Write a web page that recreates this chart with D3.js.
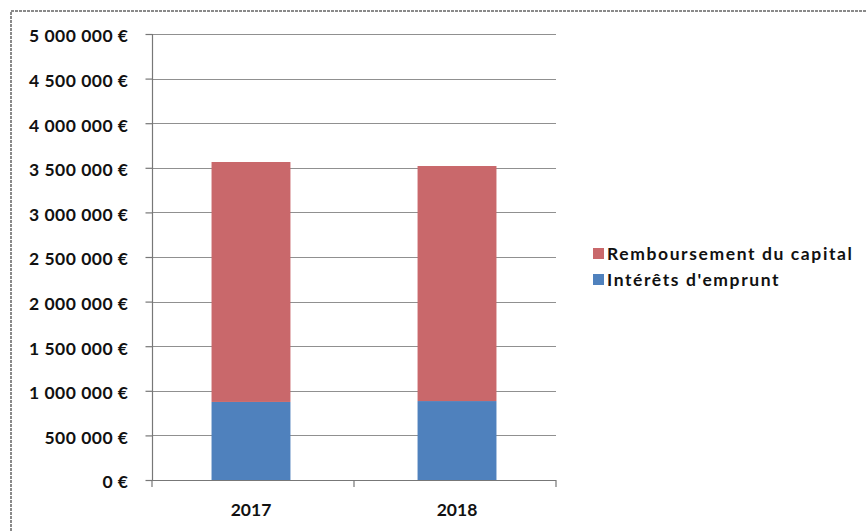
<!DOCTYPE html>
<html lang="fr">
<head>
<meta charset="utf-8">
<title>Annuités</title>
<style>
  body { margin: 0; background: #fff; }
  .tick text, .leg text { font-family: Lato, "Open Sans", sans-serif; font-weight: bold; fill: #111; }
</style>
<script src="https://d3js.org/d3.v7.min.js"></script>
</head>
<body>
<script>
var w = 867, h = 531;

// data
var years = ["2017", "2018"];
var interets = [875000, 885000];
var capital = [2690000, 2635000];
var seriesNames = ["Remboursement du capital", "Intérêts d'emprunt"];
var seriesColors = ["#c9686b", "#4f81bd"];
var yTicks = [0, 500000, 1000000, 1500000, 2000000, 2500000, 3000000, 3500000, 4000000, 4500000, 5000000];

var svg = d3.select("body").append("svg").attr("width", w).attr("height", h);

// frame of the chart area (scanned, only top and left visible)
svg.append("path")
  .attr("d", "M11,531 V11 H867")
  .attr("fill", "none")
  .attr("stroke", "#8a8a8a")
  .attr("stroke-width", 2)
  .attr("stroke-dasharray", "3,1");

var pLeft = 152, pRight = 556, pTop = 34, pBottom = 480;

var x = d3.scaleBand().domain(years).range([pLeft, pRight]).paddingInner(0.617).paddingOuter(0.289);
var y = d3.scaleLinear().domain([0, 5000000]).range([pBottom, pTop]);

var fmt = function(v) {
  return d3.format(",")(v).replace(/,/g, " ") + " €";
};

// gridlines
svg.append("g").selectAll("line")
  .data(yTicks)
  .enter().append("line")
  .attr("x1", pLeft).attr("x2", pRight)
  .attr("y1", function(d) { return Math.round(y(d)) + 0.5; })
  .attr("y2", function(d) { return Math.round(y(d)) + 0.5; })
  .attr("stroke", "#909090")
  .attr("stroke-width", 1.2);

// y axis
var yAxis = svg.append("g")
  .attr("transform", "translate(" + (pLeft + 0.5) + ",0)")
  .call(d3.axisLeft(y).tickValues(yTicks).tickFormat(fmt).tickSize(7).tickPadding(17));
yAxis.selectAll("line, path").attr("stroke", "#777").attr("stroke-width", 1.2);
yAxis.selectAll("text").style("font-size", "17.5px").style("letter-spacing", "0.5px").attr("dy", "0.45em");
yAxis.select(".domain").attr("d", "M0," + pTop + "V" + pBottom);

// stacked bars
var stack = years.map(function(yr, i) {
  return { year: yr, parts: [[0, interets[i], 1], [interets[i], interets[i] + capital[i], 0]] };
});
var g = svg.append("g").selectAll("g").data(stack).enter().append("g");
g.selectAll("rect")
  .data(function(d) { return d.parts.map(function(p) { return { year: d.year, y0: p[0], y1: p[1], s: p[2] }; }); })
  .enter().append("rect")
  .attr("x", function(d) { return x(d.year); })
  .attr("width", x.bandwidth())
  .attr("y", function(d) { return y(d.y1); })
  .attr("height", function(d) { return y(d.y0) - y(d.y1); })
  .attr("fill", function(d) { return seriesColors[d.s]; });

// x axis
var xAxis = svg.append("g")
  .attr("transform", "translate(0," + (pBottom + 0.5) + ")")
  .call(d3.axisBottom(x).tickSize(0).tickPadding(23));
xAxis.select(".domain").attr("stroke", "#777").attr("stroke-width", 1.2)
  .attr("d", "M" + pLeft + ",0H" + pRight);
xAxis.selectAll("text").style("font-size", "17.5px");
svg.append("g").selectAll("line")
  .data([pLeft, (pLeft + pRight) / 2, pRight])
  .enter().append("line")
  .attr("x1", function(d) { return d; }).attr("x2", function(d) { return d; })
  .attr("y1", pBottom).attr("y2", pBottom + 7)
  .attr("stroke", "#777").attr("stroke-width", 1.2);

// legend
var leg = svg.append("g").attr("class", "leg").selectAll("g")
  .data(seriesNames)
  .enter().append("g")
  .attr("transform", function(d, i) { return "translate(593," + (248 + i * 26) + ")"; });
leg.append("rect").attr("width", 11).attr("height", 11)
  .attr("fill", function(d, i) { return seriesColors[i]; });
leg.append("text").attr("x", 14).attr("y", 12)
  .style("font-size", "17.5px")
  .style("letter-spacing", "1.6px")
  .text(function(d) { return d; });
</script>
</body>
</html>
